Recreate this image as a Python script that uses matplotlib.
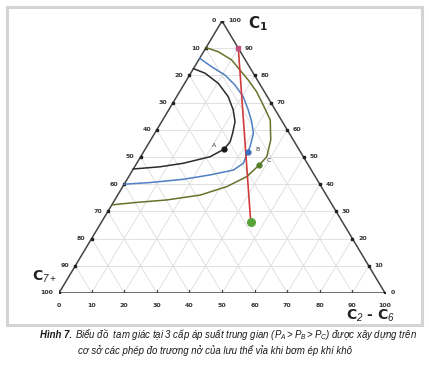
import matplotlib
matplotlib.use("Agg")
import matplotlib.pyplot as plt
from matplotlib.patches import Rectangle
import numpy as np

cap_font = 'Liberation Sans'
plt.rcParams['mathtext.fontset'] = 'custom'
plt.rcParams['mathtext.it'] = cap_font + ':italic'
plt.rcParams['mathtext.rm'] = cap_font + ':italic'

# curves as (C1 %, C2-C6 %), C7+ = 100 - the rest
curve_a_c1 = [82.5, 80.8, 77.1, 72.2, 67.3, 63.0, 58.7, 55.6, 52.9, 50.1, 47.7, 46.4, 45.6]
curve_a_c26 = [0, 4.4, 10.3, 15.8, 19.8, 22.5, 23.9, 24.7, 24.2, 21.3, 14.3, 7.8, 0]

curve_b_c1 = [86.3, 83.2, 80.1, 76.5, 72.2, 67.3, 63.0, 58.7, 53.8, 51.7, 47.7, 45.2, 43.4, 41.8, 40.6, 40.0]
curve_b_c26 = [0, 5.2, 10.9, 15.7, 20.4, 24.4, 27.6, 30.3, 31.7, 32.0, 32.7, 30.9, 24.6, 17.2, 7.6, 0]

curve_c_c1 = [90.2, 88.7, 85.7, 82.0, 78.3, 74.0, 69.1, 63.6, 56.3, 50.1, 47.1, 42.8, 39.1, 36.0, 34.2, 33.2, 32.4]
curve_c_c26 = [0, 4.5, 10.1, 14.5, 18.9, 23.6, 28.1, 33.0, 36.8, 38.7, 37.9, 36.2, 31.9, 25.3, 15.9, 6.2, 0]

point_names = ['A', 'B', 'C']
point_c1 = [52.9, 51.7, 47.1]
point_c26 = [24.2, 32.0, 37.9]

line_c1 = [90, 26.2]
line_c26 = [10, 45.7]

ticks = list(range(0, 101, 10))


def tern(c1, c26):
    c1 = np.asarray(c1) / 100.0
    c26 = np.asarray(c26) / 100.0
    return c26 + c1 / 2, c1


fig = plt.figure(figsize=(4.29, 3.85), dpi=100)
ax = fig.add_axes([59 / 429, 92 / 385, 326 / 429, 272 / 385])
ax.set_xlim(0, 1)
ax.set_ylim(0, 1)
ax.axis('off')

# grid
grid_kw = dict(color='#dcdcdc', lw=0.6, zorder=1)
for t in ticks[1:-1]:
    x, y = tern([t, t], [0, 100 - t])
    ax.plot(x, y, **grid_kw)
    x, y = tern([0, 100 - t], [t, t])
    ax.plot(x, y, **grid_kw)
    x, y = tern([0, 100 - t], [100 - t, 0])
    ax.plot(x, y, **grid_kw)

# triangle edges
x, y = tern([0, 0, 100, 0], [0, 100, 0, 0])
ax.plot(x, y, color='#444444', lw=1.1, zorder=3)

lab_kw = dict(fontsize=4.5, color='#333333', fontweight='bold')
for t in ticks:
    # left edge: C7+ labels
    x, y = tern([100 - t], [0])
    ax.plot(x, y, marker='s', ms=1.6, color='#222222', zorder=4)
    ax.text(x[0] - 0.018, y[0], str(t), ha='right', va='center', **lab_kw)
    # right edge: C1 labels
    x, y = tern([t], [100 - t])
    ax.plot(x, y, marker='s', ms=1.6, color='#222222', zorder=4)
    ax.text(x[0] + 0.018, y[0], str(t), ha='left', va='center', **lab_kw)
    # bottom: C2-C6 labels
    x, y = tern([0], [t])
    ax.plot([x[0], x[0]], [-0.012, 0.012], color='#444444', lw=0.8, zorder=4)
    ax.text(x[0], -0.035, str(t), ha='center', va='top', **lab_kw)

ax.text(0.61, 0.99, r'C$_\mathbf{1}$', fontsize=11, fontweight='bold', color='#222222',
        ha='center', va='center', family='DejaVu Sans')
ax.text(-0.045, 0.06, 'C$_{7+}$', fontsize=10, fontweight='bold', color='#222222',
        ha='center', va='center', family='DejaVu Sans')
ax.text(0.955, -0.085, 'C$_2$ - C$_6$', fontsize=10, fontweight='bold', color='#222222',
        ha='center', va='center', family='DejaVu Sans')

x, y = tern(curve_a_c1, curve_a_c26)
ax.plot(x, y, color='#2b2b2b', lw=1.1, zorder=5)
x, y = tern(curve_b_c1, curve_b_c26)
ax.plot(x, y, color='#4f7fc4', lw=1.1, zorder=5)
x, y = tern(curve_c_c1, curve_c_c26)
ax.plot(x, y, color='#66722a', lw=1.1, zorder=5)

x, y = tern(line_c1, line_c26)
ax.plot(x, y, color='#d23a3a', lw=1.2, zorder=6)
ax.plot(x[0], y[0], 's', ms=2.5, color='#c05080', zorder=7)
ax.plot(x[1], y[1], 'o', ms=5.5, color='#5aa53a', zorder=7)

point_colors = ['#1a1a1a', '#3d6fc0', '#55802a']
offsets = [(-0.03, 0.015), (0.03, 0.01), (0.03, 0.015)]
for name, c1, c26, col, off in zip(point_names, point_c1, point_c26, point_colors, offsets):
    x, y = tern([c1], [c26])
    ax.plot(x, y, 'o', ms=3.5, color=col, zorder=8)
    ax.text(x[0] + off[0], y[0] + off[1], name, fontsize=4.5, color='#333333',
            ha='center', va='center')

# frame around the chart
fig.patches.append(Rectangle((6.5 / 429, 1 - 324.5 / 385), 415 / 429, 318 / 385,
                             transform=fig.transFigure, fill=False,
                             edgecolor='#d4d4d4', lw=2.2))

# caption, sized to the width of the reference line
head = u'Hình 7. '
rest = u'Biểu đồ  tam giác tại 3 cấp áp suất trung gian ($P_A > P_B > P_C$) được xây dựng trên'
line2 = u'cơ sở các phép đo trương nở của lưu thể vỉa khi bơm ép khí khô'
cap_kw = dict(style='italic', family=cap_font, color='#1a1a1a', va='center')
y1 = 1 - 335 / 385
y2 = 1 - 351 / 385

renderer = fig.canvas.get_renderer()
fs = 8.0
t1 = fig.text(0, y1, head, fontsize=fs, fontweight='bold', ha='left', **cap_kw)
t2 = fig.text(0, y1, rest, fontsize=fs, ha='left', **cap_kw)
w = t1.get_window_extent(renderer).width + t2.get_window_extent(renderer).width
fs = fs * 375 / w
t1.set_fontsize(fs)
t2.set_fontsize(fs)
w1 = t1.get_window_extent(renderer).width
x0 = 40 / 429
t1.set_x(x0)
t2.set_x(x0 + w1 / 429)
fig.text(215 / 429, y2, line2, fontsize=fs, ha='center', **cap_kw)

fig.savefig('out.png', dpi=100, facecolor='white')
